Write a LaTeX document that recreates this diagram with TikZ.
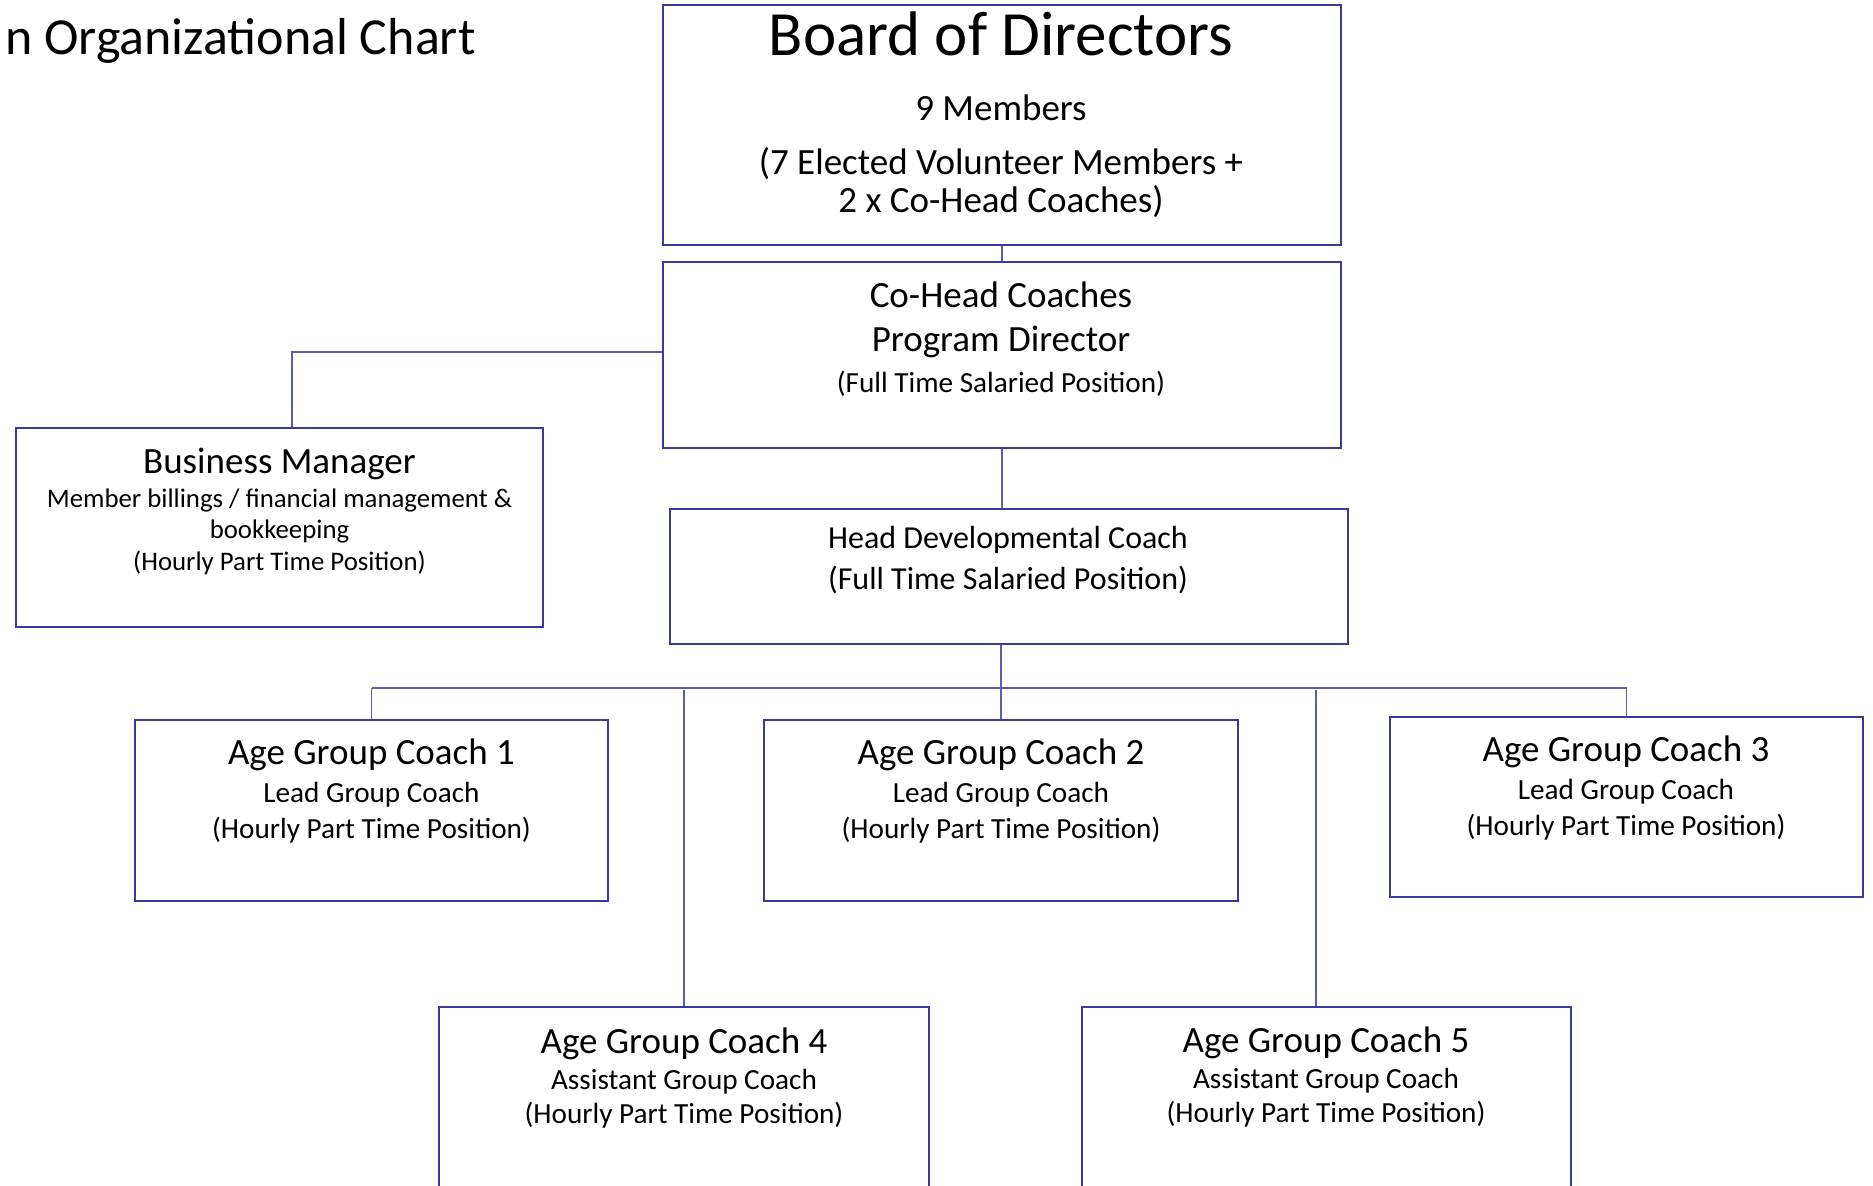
\documentclass[tikz,border=0pt]{standalone}
\usepackage{fontspec}
\setmainfont{Carlito}
\usetikzlibrary{positioning, calc}

\definecolor{boxblue}{RGB}{58,58,154}
\definecolor{lineblue}{RGB}{92,92,178}

\begin{document}
\begin{tikzpicture}[
    x=0.5pt, y=-0.5pt, % one unit per pixel of the chart
    box/.style={draw=boxblue, line width=1.2pt, inner sep=0pt}, % Boxes of the chart
    link/.style={draw=lineblue, line width=0.7pt}, % Thin connector lines
    hugeT/.style={anchor=base, inner sep=0pt, font=\fontsize{31.5}{36}\selectfont},
    titleT/.style={anchor=base east, inner sep=0pt, font=\fontsize{26}{30}\selectfont},
    bigT/.style={anchor=base, inner sep=0pt, font=\fontsize{18.5}{22}\selectfont},
    midT/.style={anchor=base, inner sep=0pt, font=\fontsize{16}{19}\selectfont},
    smallT/.style={anchor=base, inner sep=0pt, font=\fontsize{14.6}{17}\selectfont},
    tinyT/.style={anchor=base, inner sep=0pt, font=\fontsize{13.4}{16}\selectfont}
]
\useasboundingbox (0,0) rectangle (1873,1186);

% Title
\node[titleT] (title) at (476,55) {n Organizational Chart};

% Boxes
\node[box, minimum width=339pt, minimum height=120pt] (board) at (1002,125) {};
\node[box, minimum width=339pt, minimum height=93pt] (cohead) at (1002,355) {};
\node[box, minimum width=263.5pt, minimum height=99.5pt] (bm) at (279.5,527.5) {};
\node[box, minimum width=339pt, minimum height=67.5pt] (headdev) at (1009,576.5) {};
\node[box, minimum width=236.5pt, minimum height=90.5pt] (agc1) at (371.5,810.5) {};
\node[box, minimum width=237pt, minimum height=90.5pt] (agc2) at (1001,810.5) {};
\node[box, minimum width=236.5pt, minimum height=90pt] (agc3) at (1626.5,807) {};
\node[box, minimum width=245pt, minimum height=95pt] (agc4) at (684,1102) {};
\node[box, minimum width=244.5pt, minimum height=95pt] (agc5) at (1326.5,1102) {};

% Texts in the boxes
\node[hugeT] (boardA) at (1001,56) {Board of Directors};
\node[bigT] (boardB) at (1001,121) {9 Members};
\node[bigT] (boardC) at (1001,175) {(7 Elected Volunteer Members +};
\node[bigT] (boardD) at (1001,213) {2 x Co-Head Coaches)};

\node[bigT] (coheadA) at (1001,308) {Co-Head Coaches};
\node[bigT] (coheadB) at (1001,352) {Program Director};
\node[smallT] (coheadC) at (1001,393) {(Full Time Salaried Position)};

\node[bigT] (bmA) at (279.5,474) {Business Manager};
\node[tinyT] (bmB) at (279.5,508) {Member billings / financial management \&};
\node[tinyT] (bmC) at (279.5,539) {bookkeeping};
\node[tinyT] (bmD) at (279.5,571) {(Hourly Part Time Position)};

\node[midT] (headdevA) at (1008,549) {Head Developmental Coach};
\node[midT] (headdevB) at (1008,590) {(Full Time Salaried Position)};

\node[bigT] (agc1A) at (371.5,764) {Age Group Coach 1};
\node[smallT] (agc1B) at (371.5,802) {Lead Group Coach};
\node[smallT] (agc1C) at (371.5,838) {(Hourly Part Time Position)};

\node[bigT] (agc2A) at (1001,764) {Age Group Coach 2};
\node[smallT] (agc2B) at (1001,802) {Lead Group Coach};
\node[smallT] (agc2C) at (1001,838) {(Hourly Part Time Position)};

\node[bigT] (agc3A) at (1626,761) {Age Group Coach 3};
\node[smallT] (agc3B) at (1626,799) {Lead Group Coach};
\node[smallT] (agc3C) at (1626,835) {(Hourly Part Time Position)};

\node[bigT] (agc4A) at (684,1053) {Age Group Coach 4};
\node[smallT] (agc4B) at (684,1089) {Assistant Group Coach};
\node[smallT] (agc4C) at (684,1123) {(Hourly Part Time Position)};

\node[bigT] (agc5A) at (1326,1052) {Age Group Coach 5};
\node[smallT] (agc5B) at (1326,1088) {Assistant Group Coach};
\node[smallT] (agc5C) at (1326,1122) {(Hourly Part Time Position)};

% Connectors
\coordinate (bmBend) at (292,352);
\coordinate (split) at (1001,688);
\coordinate (asstTop) at (0,690);

\draw[link] (board.south) -- (cohead.north);
\draw[link] (cohead.west |- bmBend) -- (bmBend) -- (bmBend |- bm.north);
\draw[link] (cohead.south) -- (cohead.south |- headdev.north);
\draw[link] (split |- headdev.south) -- (split);
\draw[link] (agc1.north |- split) -- (agc3.north |- split);
\draw[link] (agc1.north |- split) -- (agc1.north);
\draw[link] (agc2.north |- split) -- (agc2.north);
\draw[link] (agc3.north |- split) -- (agc3.north);
\draw[link] (agc4.north |- asstTop) -- (agc4.north);
\draw[link] ([xshift=-5.25pt]agc5.north |- asstTop) -- ([xshift=-5.25pt]agc5.north);

\end{tikzpicture}
\end{document}
